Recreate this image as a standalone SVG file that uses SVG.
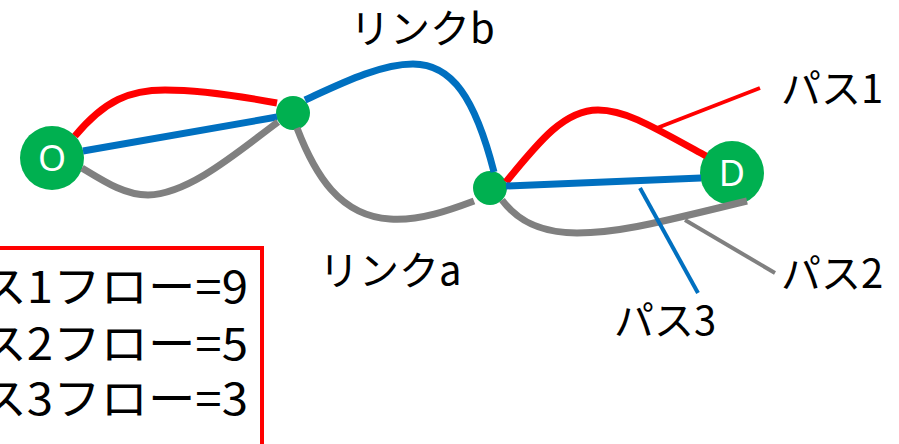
<svg xmlns="http://www.w3.org/2000/svg" width="899" height="444" viewBox="0 0 899 444">
<style>
.p{fill:none;stroke-width:7}
.r{stroke:#FF0000}.b{stroke:#0070C0}.g{stroke:#808080}
.ld{fill:none;stroke-width:4}
.node{fill:#00B050}
.nl{fill:#FFFFFF;font-family:"Noto Sans","Noto Sans CJK JP",sans-serif;font-size:36px;text-anchor:middle}
.t{fill:#000000;font-family:"Noto Sans CJK JP","Noto Sans",sans-serif;font-size:40px}
.lg{fill:#000000;font-family:"Noto Sans CJK JP","Noto Sans",sans-serif;font-size:44px}
</style>
<rect width="899" height="444" fill="#FFFFFF"/>
<g id="legend">
<rect x="-20" y="248" width="282" height="220" fill="#FFFFFF" stroke="#FF0000" stroke-width="4"/>
<text class="lg" x="-68" y="303" textLength="316" lengthAdjust="spacingAndGlyphs">パス1フロー=9</text>
<text class="lg" x="-68" y="360" textLength="316" lengthAdjust="spacingAndGlyphs">パス2フロー=5</text>
<text class="lg" x="-68" y="415" textLength="316" lengthAdjust="spacingAndGlyphs">パス3フロー=3</text>
</g>
<g id="nodes">
<g id="node-O"><circle class="node" cx="52" cy="158" r="32"/><text class="nl" x="52" y="171">O</text></g>
<g id="node-B1"><circle class="node" cx="293" cy="113" r="17"/></g>
<g id="node-B2"><circle class="node" cx="490" cy="188" r="17"/></g>
<g id="node-D"><circle class="node" cx="732" cy="173" r="32"/><text class="nl" x="732" y="186">D</text></g>
</g>
<g id="connectors">
<path class="p r" d="M75,136 C105,100 130,90 165,90 C200,90 250,98 277,103"/>
<path class="p b" d="M83,151 L277,117"/>
<path class="p g" d="M82,168 C105,182 125,195 148,195 C190,194 240,150 278,122"/>
<path class="p b" d="M305,100 C340,84 380,64 413,64 C452,64 475,98 494,172"/>
<path class="p g" d="M297,128 C315,175 340,216 390,219 C420,221 450,210 474,201"/>
<path class="p r" d="M506,182 C540,140 565,110 598,110 C625,110 650,125 706,156"/>
<path class="p b" d="M506,186 L701,178"/>
<path class="p g" d="M502,200 C520,224 545,233 577,233 C620,233 660,222 747,201"/>
<path class="ld r" d="M657,128 L760,88"/>
<path class="ld b" d="M640,188 L698,293"/>
<path class="ld g" d="M685,220 L775,273"/>
</g>
<g id="labels">
<text class="t" x="350" y="43">リンクb</text>
<text class="t" x="319" y="285">リンクa</text>
<text class="t" x="781" y="103">パス1</text>
<text class="t" x="781" y="288">パス2</text>
<text class="t" x="614" y="335">パス3</text>
</g>
</svg>
